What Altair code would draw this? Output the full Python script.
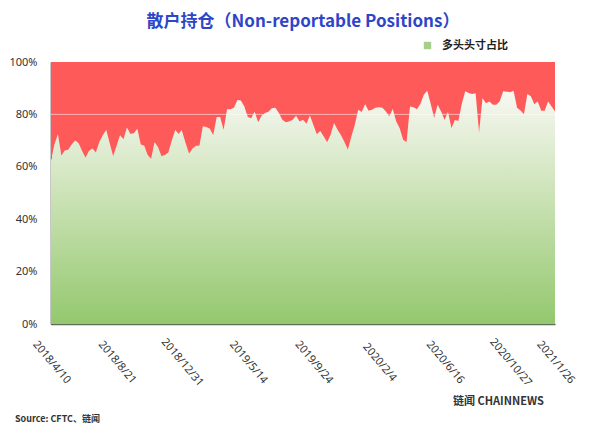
import altair as alt
import pandas as pd

# 多头头寸占比 (percent), weekly from 2018/4/10 to 2021/1/26
long_pct = [
    62.6, 68.5, 72.4, 64.2, 66.2, 66.5, 68.5, 70.0, 69.0, 66.0,
    63.5, 66.0, 67.0, 65.5, 69.5, 72.0, 74.0, 69.0, 64.0, 68.0,
    72.0, 70.5, 75.0, 72.5, 72.8, 74.5, 68.5, 68.0, 64.5, 63.0,
    69.5, 67.5, 64.0, 64.5, 65.5, 70.0, 74.0, 72.5, 74.0, 69.0,
    65.0, 67.0, 68.0, 68.0, 75.5, 75.2, 74.5, 72.0, 79.0, 79.0,
    74.0, 82.0, 82.0, 82.5, 85.5, 85.3, 83.0, 79.0, 78.5, 81.0,
    77.0, 79.5, 80.5, 81.0, 82.3, 82.5, 80.5, 78.0, 77.0, 77.3,
    78.0, 79.5, 77.3, 78.0, 76.4, 79.6, 76.0, 72.4, 73.7, 71.6,
    69.4, 72.2, 76.7, 74.1, 72.0, 69.5, 66.5, 71.5, 76.0, 81.8,
    80.9, 83.9, 81.4, 81.8, 82.5, 82.7, 82.5, 81.1, 79.2, 82.1,
    77.3, 74.7, 70.3, 69.4, 83.0, 82.7, 82.0, 84.0, 87.5, 89.0,
    84.0, 78.6, 83.7, 81.1, 77.9, 80.9, 74.7, 77.9, 77.5, 84.0,
    88.8, 88.2, 87.8, 88.1, 73.0, 86.2, 84.3, 84.9, 83.7, 83.7,
    85.0, 88.8, 88.6, 88.5, 89.0, 82.5, 81.5, 80.1, 87.8, 86.9,
    83.9, 84.9, 81.4, 81.4, 84.9, 83.0, 81.1,
]
start_date = "2018-04-10"
tick_dates = [(2018, 4, 10), (2018, 8, 21), (2018, 12, 31), (2019, 5, 14),
              (2019, 9, 24), (2020, 2, 4), (2020, 6, 16), (2020, 10, 27),
              (2021, 1, 26)]
y_ticks = [0, 0.2, 0.4, 0.6, 0.8, 1.0]
grid_values = [0.8]
series_name = "多头头寸占比"

dates = pd.date_range(start_date, periods=len(long_pct), freq="7D")
dates = [pd.Timestamp("2018-12-31") if d == pd.Timestamp("2019-01-01") else d for d in dates]

df = pd.DataFrame({
    "date": [d.strftime("%Y-%m-%d") for d in dates],
    "long": [v / 100 for v in long_pct],
    "top": 1.0,
    "series": series_name,
})

xscale = alt.Scale(type="utc", nice=False, padding=0)
yscale = alt.Scale(domain=[0, 1], nice=False)

x_axis = alt.Axis(
    values=[alt.DateTime(year=y, month=m, date=d, utc=True) for y, m, d in tick_dates],
    format="%Y/%-m/%-d", labelAngle=50, labelAlign="center", labelBaseline="middle",
    labelPadding=38, ticks=False, tickSize=0, grid=False, title=None,
    labelFont="Noto Sans", labelFontSize=11, labelColor="#333333",
    labelFlush=False, labelOverlap=False, labelBound=False,
    domainColor="#5f6f55", domainWidth=1.5,
)
y_axis = alt.Axis(
    values=y_ticks, format=".0%", ticks=False, tickSize=0, grid=False, title=None,
    labelFont="Noto Sans", labelFontSize=11, labelColor="#333333", labelPadding=14,
    domainColor="#222222", domainWidth=1.5,
)

X = alt.X("date:T", scale=xscale, axis=x_axis)
Y_long = alt.Y("long:Q", scale=yscale, axis=y_axis)

green = alt.Chart(df).mark_area(
    interpolate="linear",
    fill=alt.Gradient(
        gradient="linear",
        stops=[alt.GradientStop(color="#F8F8F2", offset=0),
               alt.GradientStop(color="#94C86E", offset=1)],
        x1=1, x2=1, y1=0, y2=1,
    ),
).encode(x=X, y=Y_long)

red = alt.Chart(df).mark_area(
    color="#FF5A5A", opacity=1, interpolate="linear"
).encode(x=X, y=Y_long, y2="top:Q")

grid = alt.Chart(pd.DataFrame({"long": grid_values})).mark_rule(
    color="#ffffff", opacity=0.55, strokeWidth=1
).encode(y=Y_long)

legend_layer = alt.Chart(df).mark_square(opacity=0, size=1).encode(
    x=X,
    y=Y_long,
    color=alt.Color(
        "series:N",
        scale=alt.Scale(domain=[series_name], range=["#A6D08A"]),
        legend=alt.Legend(
            title=None, orient="none", legendX=371, legendY=-22,
            symbolType="square", symbolSize=55, symbolOpacity=1, symbolStrokeWidth=0,
            labelFont="Noto Sans CJK SC", labelFontSize=11, labelFontWeight="bold",
            labelColor="#222222", padding=0, labelOffset=9,
        ),
    ),
)

source = alt.Chart(pd.DataFrame({"t": ["Source: CFTC、链闻"]})).mark_text(
    align="left", baseline="middle", font="Noto Sans CJK SC", fontSize=9,
    color="#333333", fontWeight="bold",
).encode(text="t:N", x=alt.value(-36), y=alt.value(357))

brand = alt.Chart(pd.DataFrame({"t": ["链闻 CHAINNEWS"]})).mark_text(
    align="left", baseline="middle", font="Noto Sans CJK SC", fontSize=11,
    color="#333333", fontWeight="bold",
).encode(text="t:N", x=alt.value(402), y=alt.value(340))

chart = alt.layer(green, red, grid, legend_layer, source, brand).properties(
    width=504, height=262,
    title=alt.TitleParams(
        text="散户持仓（Non-reportable Positions）", font="Noto Sans CJK SC",
        fontSize=17, fontWeight="bold", color="#2E45C8", anchor="middle", offset=9,
    ),
    autosize=alt.AutoSizeParams(type="none"),
    padding={"left": 43, "top": 54, "right": 37, "bottom": 106},
).configure_view(stroke=None)

chart.save("out.html", embed_options={"renderer": "svg", "actions": False})
